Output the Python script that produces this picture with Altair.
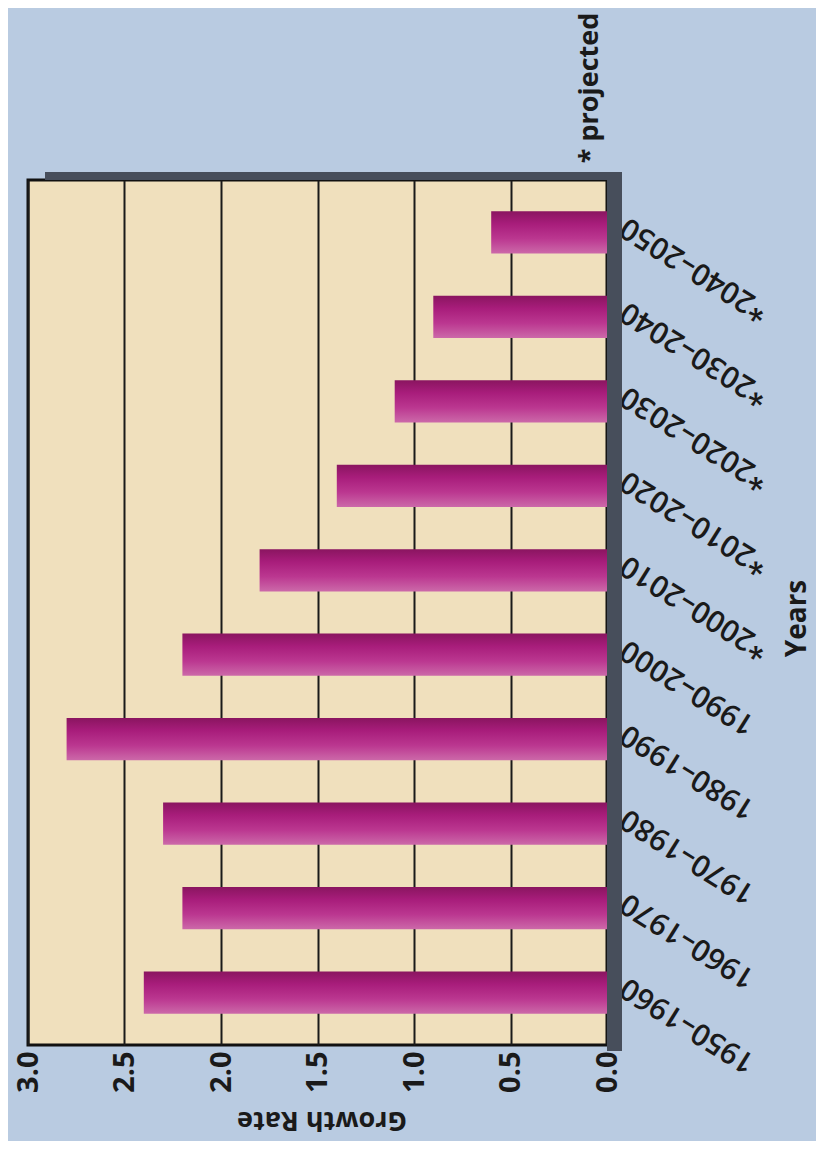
import altair as alt
import pandas as pd

periods = ["1950–1960", "1960–1970", "1970–1980", "1980–1990", "1990–2000",
           "*2000–2010", "*2010–2020", "*2020–2030", "*2030–2040", "*2040–2050"]
growth = [2.4, 2.2, 2.3, 2.8, 2.2, 1.8, 1.4, 1.1, 0.9, 0.6]
ticks = [0.0, 0.5, 1.0, 1.5, 2.0, 2.5, 3.0]
note = ["* projected"]

df = pd.DataFrame({"period": periods, "growth": growth})
order = list(reversed(periods))

W, H = 579, 865
FONT = "Open Sans"

bar_grad = alt.Gradient(
    gradient="linear",
    stops=[
        alt.GradientStop(color="#8a1560", offset=0),
        alt.GradientStop(color="#a81d7b", offset=0.3),
        alt.GradientStop(color="#bb3790", offset=0.65),
        alt.GradientStop(color="#cc69a9", offset=1),
    ],
    x1=0, x2=0, y1=0, y2=1,
)

bars = alt.Chart(df).mark_bar(color=bar_grad).encode(
    x=alt.X("growth:Q",
            scale=alt.Scale(domain=[0, 3], reverse=True, nice=False),
            axis=alt.Axis(values=ticks, format=".1f", title="Growth Rate",
                          orient="bottom", grid=True, gridColor="#1a1a1a",
                          gridWidth=2, gridOpacity=1, ticks=False, domain=False,
                          labelAngle=270, labelAlign="right", labelBaseline="middle",
                          labelFont=FONT, labelFontSize=29, labelFontWeight="bold",
                          labelColor="#1a1a1a", labelPadding=6,
                          titleFont=FONT, titleFontSize=27, titleFontWeight="bold",
                          titleColor="#1a1a1a", titleAngle=180, titleBaseline="middle",
                          titleX=W / 2 + 4, titleY=74)),
    y=alt.Y("period:N", sort=order,
            scale=alt.Scale(paddingInner=0.5, paddingOuter=0.37),
            axis=alt.Axis(orient="right", title="Years", ticks=False, domain=False,
                          grid=False, labelAngle=212, labelAlign="right",
                          labelBaseline="middle", labelFont=FONT, labelFontSize=30,
                          labelFontWeight=600, labelColor="#1a1a1a", labelPadding=16,
                          labelOffset=-8,
                          titleFont=FONT, titleFontSize=28, titleFontWeight="bold",
                          titleColor="#1a1a1a", titleAngle=270, titleAlign="center",
                          titleBaseline="middle", titleX=190, titleY=438)),
)

shadow_df = pd.DataFrame({"k": [1]})
shadow_right = alt.Chart(shadow_df).mark_rect(color="#474e5b", clip=False).encode(
    x=alt.value(W), x2=alt.value(W + 15), y=alt.value(-8), y2=alt.value(H + 6))
shadow_top = alt.Chart(shadow_df).mark_rect(color="#474e5b", clip=False).encode(
    x=alt.value(17), x2=alt.value(W + 15), y=alt.value(-8), y2=alt.value(0))

note_df = pd.DataFrame({"t": note})
note_text = alt.Chart(note_df).mark_text(
    font=FONT, fontSize=27, fontWeight="bold", color="#1a1a1a",
    angle=270, align="center", baseline="middle").encode(
    text="t:N", x=alt.value(W - 17), y=alt.value(-92))

chart = alt.layer(shadow_right, shadow_top, bars, note_text).properties(
    width=W, height=H,
    background="#b9cbe1",
    padding={"left": 20, "top": 172, "right": 209, "bottom": 96},
    autosize=alt.AutoSizeParams(type="none"),
).configure_view(
    fill="#f0e0bd", stroke="#111111", strokeWidth=3
)

chart.save("out.html", embed_options={"renderer": "svg", "actions": False})
